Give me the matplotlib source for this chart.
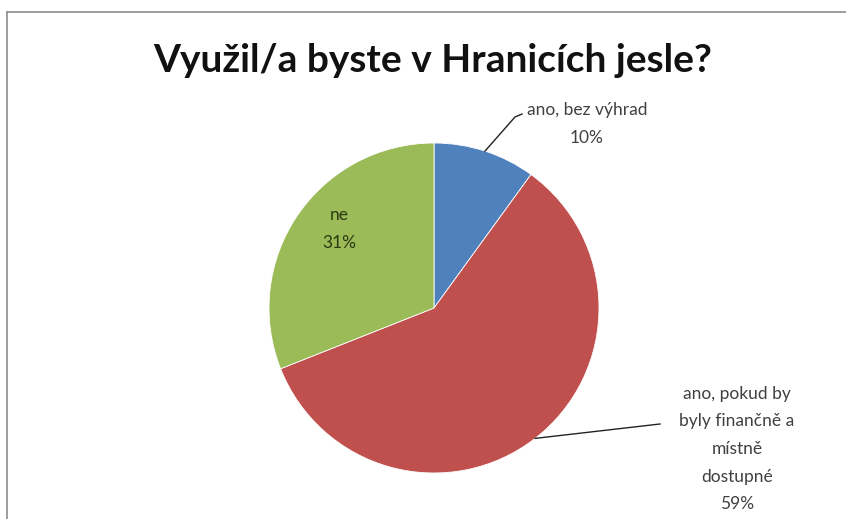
import numpy as np
import matplotlib.pyplot as plt
from matplotlib.lines import Line2D

plt.rcParams['font.family'] = ['Lato', 'DejaVu Sans']

labels = ['ano, bez výhrad', 'ano, pokud by\nbyly finančně a\nmístně\ndostupné', 'ne']
values = [10, 59, 31]
colors = ['#4F81BD', '#C0504D', '#9BBB59']

W, H = 846, 519
fig = plt.figure(figsize=(W / 100, H / 100), dpi=100)
ax = fig.add_axes([0, 0, 1, 1])

cx, cy, r = 434, H - 308, 165
wedges, _ = ax.pie(values, colors=colors, startangle=90, counterclock=False,
                   center=(cx, cy), radius=r, frame=True,
                   wedgeprops=dict(linewidth=0.6, edgecolor='white'))
ax.set_xlim(0, W)
ax.set_ylim(0, H)
ax.set_aspect('equal')
ax.axis('off')

# frame of the chart area
fig.add_artist(Line2D([7 / W, 1], [1 - 12 / H] * 2, color='#8c8c8c', lw=1.2))
fig.add_artist(Line2D([7 / W] * 2, [0, 1 - 12 / H], color='#8c8c8c', lw=1.2))

ax.text(433, H - 61, 'Využil/a byste v Hranicích jesle?', ha='center', va='center',
        fontsize=28, fontweight='bold', color='#111111')

tc = '#404040'
pct = [f'{v}%' for v in values]

def edge_point(i):
    start = 90 - sum(values[:i]) / sum(values) * 360
    mid = start - values[i] / sum(values) * 360 / 2
    a = np.deg2rad(mid)
    return cx + r * np.cos(a), cy + r * np.sin(a)

# blue slice label with leader
x0, y0 = edge_point(0)
ax.plot([x0, 515, 522], [y0, H - 117, H - 114], color='#222222', lw=1)
ax.text(587, H - 124, labels[0] + '\n' + pct[0], ha='center', va='center',
        fontsize=12.5, color=tc, linespacing=1.9)

# red slice label with leader
x1, y1 = edge_point(1)
ax.plot([x1, 660], [y1, H - 424], color='#222222', lw=1)
ax.text(737, H - 449, labels[1] + '\n' + pct[1], ha='center', va='center',
        fontsize=12.5, color=tc, linespacing=1.9)

# green slice label inside
ax.text(339, H - 229, labels[2] + '\n' + pct[2], ha='center', va='center',
        fontsize=12.5, color='#2a3a10', linespacing=1.9)

fig.savefig('out.png', dpi=100)
